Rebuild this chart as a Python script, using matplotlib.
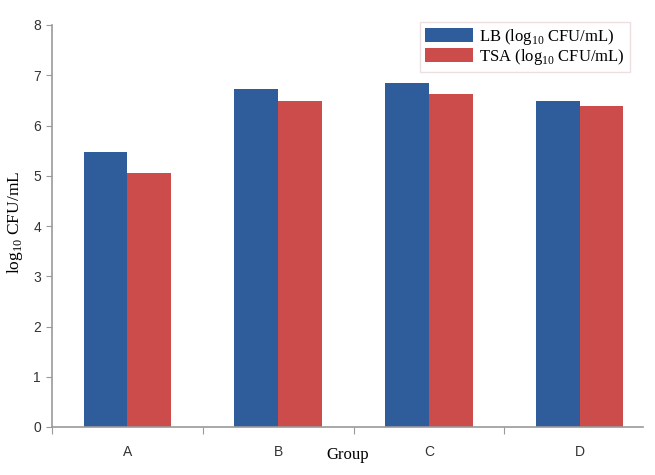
import numpy as np
import matplotlib
matplotlib.use('Agg')
import matplotlib.pyplot as plt

# ── 데이터 ─────────────────────────────────────────
groups  = ['A', 'B', 'C', 'D']
lb_vals  = [5.47, 6.72, 6.85, 6.48]
tsa_vals = [5.06, 6.48, 6.62, 6.38]
y_ticks  = [0, 1, 2, 3, 4, 5, 6, 7, 8]

BLUE = '#2F5C9B'
RED  = '#CC4C4C'
AXC  = '#9A9A9A'
SERIF = ['Liberation Serif', 'DejaVu Serif']
SANS  = ['Liberation Sans', 'DejaVu Sans']

plt.rcParams['mathtext.fontset'] = 'custom'
plt.rcParams['mathtext.rm'] = 'Liberation Serif'

fig = plt.figure(figsize=(6.55, 4.75), dpi=100, facecolor='white')
# 축 영역: 왼쪽 52px, 아래 427px, 오른쪽 643px, 위 25px
ax = fig.add_axes([52/655, (475-427)/475, (643-52)/655, (427-25)/475])

x = np.arange(len(groups))
w = 0.29
ax.bar(x - w/2, lb_vals, w, color=BLUE, label=r'LB (log$_{10}$ CFU/mL)')
ax.bar(x + w/2, tsa_vals, w, color=RED, label=r'TSA (log$_{10}$ CFU/mL)')

ax.set_xlim(-0.5, 3.42)
ax.set_ylim(0, 8)
ax.set_yticks(y_ticks)
ax.set_yticklabels([str(t) for t in y_ticks], family=SANS, fontsize=10, color='#333333')
ax.set_xticks([-0.5, 0.5, 1.5, 2.5])
ax.set_xticklabels([])
ax.set_xticks(x, minor=True)
ax.set_xticklabels(groups, minor=True, family=SANS, fontsize=10, color='#333333')
ax.tick_params(axis='x', which='major', length=5, color=AXC, direction='out')
ax.tick_params(axis='x', which='minor', length=0, pad=13)
ax.tick_params(axis='y', length=4, color=AXC, direction='out', pad=4)

for s in ['top', 'right']:
    ax.spines[s].set_visible(False)
for s in ['left', 'bottom']:
    ax.spines[s].set_color(AXC)
    ax.spines[s].set_linewidth(1.2)

ax.set_xlabel('Group', family=SERIF, fontsize=12, labelpad=-9)
ax.set_ylabel(r'log$_{10}$ CFU/mL', family=SERIF, fontsize=12.5)
ax.yaxis.set_label_coords(-0.045, 0.51)

leg = ax.legend(loc='upper right', bbox_to_anchor=(630/655, 1 - 22/475),
                bbox_transform=fig.transFigure, borderaxespad=0,
                prop={'family': SERIF, 'size': 12},
                frameon=True, fancybox=False, borderpad=0.3,
                handlelength=2.9, handleheight=0.9, handletextpad=0.35,
                labelspacing=0.0)
leg.get_frame().set_edgecolor('#E8D8D8')
leg.get_frame().set_linewidth(1.0)

fig.savefig('out.png', dpi=100, facecolor='white')
